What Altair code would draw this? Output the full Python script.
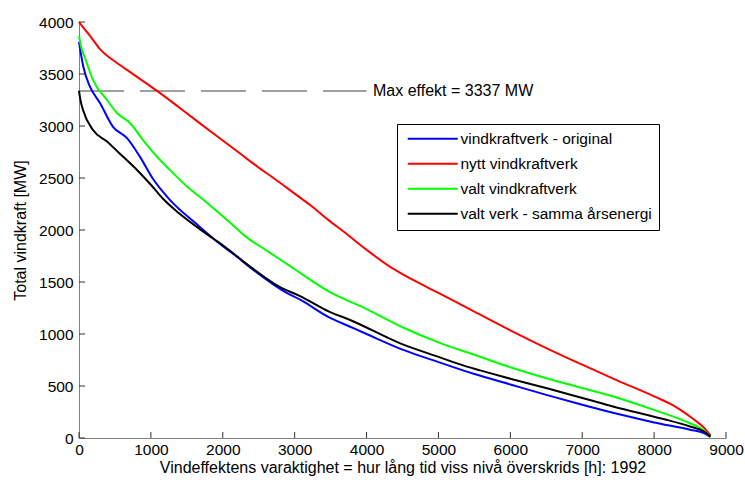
import altair as alt
import pandas as pd

FONT = "Liberation Sans"

series_names = ["vindkraftverk - original", "nytt vindkraftverk",
                "valt vindkraftverk", "valt verk - samma årsenergi"]
series_colors = ["#0000ff", "#ff0000", "#00ff00", "#000000"]

blue_h = [0, 30, 60, 153, 292, 473, 668, 849, 1021, 1267, 1624, 1949, 2134, 2459,
          2877, 3076, 3480, 3772, 4000, 4500, 5000, 5500, 6000, 6500, 7000, 7500,
          8000, 8500, 8700, 8784]
blue_mw = [3810, 3680, 3570, 3378, 3221, 2992, 2884, 2703, 2500, 2288, 2064, 1872, 1776, 1599,
           1400, 1330, 1160, 1070, 1000, 850, 730, 615, 515, 415, 320, 230,
           150, 80, 45, 10]

red_h = [0, 50, 150, 292, 500, 667, 1100, 1485, 1683, 2000, 2241, 2500, 2705, 3000,
         3216, 3480, 3680, 4000, 4329, 4500, 5000, 5500, 6000, 6500, 7000, 7500,
         8000, 8300, 8550, 8700, 8784]
red_mw = [4000, 3955, 3870, 3740, 3620, 3540, 3330, 3130, 3025, 2860, 2735, 2600, 2500, 2350,
          2240, 2090, 1985, 1810, 1645, 1575, 1395, 1215, 1035, 865, 705, 550,
          400, 300, 180, 95, 25]

green_h = [0, 30, 84, 195, 390, 529, 710, 891, 1128, 1308, 1500, 1763, 2088, 2320,
           2598, 2844, 3016, 3480, 4000, 4500, 5000, 5500, 6000, 6500, 7000, 7500,
           8000, 8400, 8650, 8784]
green_mw = [3865, 3760, 3654, 3442, 3250, 3125, 3029, 2865, 2673, 2548, 2420, 2272, 2080, 1936,
            1808, 1695, 1615, 1407, 1240, 1065, 920, 800, 680, 575, 480, 385,
            270, 170, 90, 15]

black_h = [0, 20, 56, 195, 390, 529, 752, 900, 1000, 1169, 1392, 1763, 1995, 2413,
           2784, 3076, 3480, 3772, 4468, 5000, 5396, 5582, 6000, 6510, 7067, 7440,
           8000, 8183, 8500, 8700, 8784]
black_mw = [3339, 3250, 3154, 2961, 2850, 2760, 2615, 2510, 2435, 2300, 2160, 1968, 1856, 1631,
            1455, 1365, 1215, 1135, 910, 780, 686, 650, 570, 478, 372, 301,
            205, 173, 110, 60, 15]

x_ticks = [0, 1000, 2000, 3000, 4000, 5000, 6000, 7000, 8000, 9000]
y_ticks = [0, 500, 1000, 1500, 2000, 2500, 3000, 3500, 4000]

max_effekt = 3337
max_text = "Max effekt = 3337 MW"
dash_end_h = 4000
text_start_h = 4090

x_title = "Vindeffektens varaktighet = hur lång tid viss nivå överskrids [h]: 1992"
y_title = "Total vindkraft [MW]"

rows = []
for name, hs, ms in zip(series_names, [blue_h, red_h, green_h, black_h],
                        [blue_mw, red_mw, green_mw, black_mw]):
    for h, m in zip(hs, ms):
        rows.append({"serie": name, "timmar": h, "MW": m})
df = pd.DataFrame(rows)

W, H = 647, 416
TICK = 6

xscale = alt.Scale(domain=[0, 9000], nice=False, zero=False)
yscale = alt.Scale(domain=[0, 4000], nice=False, zero=False)

x_axis = alt.Axis(values=x_ticks, format="d", title=x_title, grid=False, tickSize=0,
                  labelPadding=4, domainColor="#808080", domainWidth=1, labelFont=FONT,
                  labelFontSize=15.5, labelColor="black", titleFont=FONT, titleFontSize=16,
                  titleFontWeight="normal", titleColor="black", titleY=29,
                  titleBaseline="middle", labelFlush=False)
y_axis = alt.Axis(values=y_ticks, format="d", title=y_title, grid=False, tickSize=0,
                  labelPadding=6, domainColor="#808080", domainWidth=1, labelFont=FONT,
                  labelFontSize=15.5, labelColor="black", titleFont=FONT, titleFontSize=16,
                  titleFontWeight="normal", titleColor="black", titleX=-59, titleY=H / 2,
                  titleAngle=270, titleBaseline="middle", titleAlign="center",
                  labelFlush=False)

lines = alt.Chart(df).mark_line(strokeWidth=2, strokeJoin="round",
                                interpolate="monotone").encode(
    x=alt.X("timmar:Q", scale=xscale, axis=x_axis, title=x_title),
    y=alt.Y("MW:Q", scale=yscale, axis=y_axis, title=y_title),
    color=alt.Color("serie:N", sort=series_names,
                    scale=alt.Scale(domain=series_names, range=series_colors),
                    legend=alt.Legend(title=None, orient="none", legendX=318, legendY=102,
                                      direction="vertical", symbolType="M-5,0H5",
                                      symbolSize=100, symbolStrokeWidth=2, symbolOffset=21,
                                      labelOffset=20, padding=7, rowPadding=8,
                                      strokeColor="black", fillColor="white",
                                      labelFont=FONT, labelFontSize=15.5, labelColor="black",
                                      labelLimit=0)),
    order=alt.Order("timmar:Q"),
)

max_df = pd.DataFrame({"timmar": [0], "timmar2": [dash_end_h], "MW": [max_effekt]})
max_line = alt.Chart(max_df).mark_rule(color="#808080", strokeWidth=1.6,
                                       strokeDash=[45, 16]).encode(
    x=alt.X("timmar:Q", scale=xscale, title=x_title),
    x2="timmar2:Q",
    y=alt.Y("MW:Q", scale=yscale, title=y_title),
)

txt_df = pd.DataFrame({"timmar": [text_start_h], "MW": [max_effekt], "t": [max_text]})
max_txt = alt.Chart(txt_df).mark_text(align="left", baseline="middle", font=FONT,
                                      fontSize=16, color="black").encode(
    x=alt.X("timmar:Q", scale=xscale, title=x_title),
    y=alt.Y("MW:Q", scale=yscale, title=y_title),
    text="t:N",
)

xt_df = pd.DataFrame({"timmar": x_ticks})
x_tick_marks = alt.Chart(xt_df).mark_rule(color="#333333", strokeWidth=1).encode(
    x=alt.X("timmar:Q", scale=xscale, title=x_title),
    y=alt.value(H),
    y2=alt.value(H - TICK),
)

yt_df = pd.DataFrame({"MW": y_ticks})
y_tick_marks = alt.Chart(yt_df).mark_rule(color="#333333", strokeWidth=1).encode(
    y=alt.Y("MW:Q", scale=yscale, title=y_title),
    x=alt.value(0),
    x2=alt.value(TICK),
)

chart = alt.layer(max_line, lines, max_txt, x_tick_marks, y_tick_marks).properties(
    width=W, height=H,
    autosize=alt.AutoSizeParams(type="none"),
    padding={"left": 79, "top": 22, "right": 19, "bottom": 42},
    background="white",
).configure_view(stroke=None)

chart.save("out.html", embed_options={"renderer": "svg", "actions": False})
